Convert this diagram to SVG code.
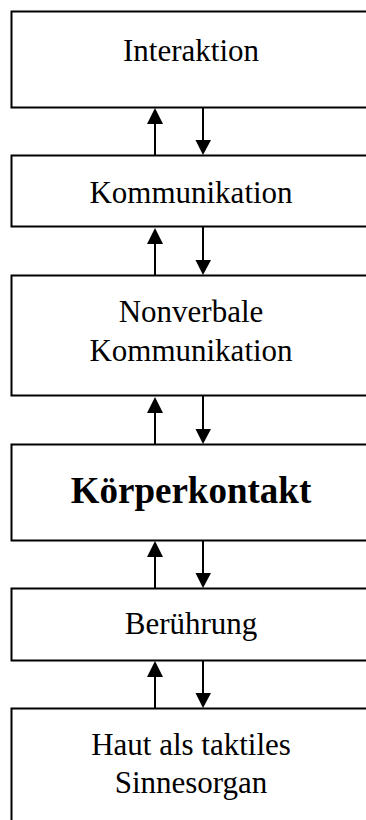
<svg xmlns="http://www.w3.org/2000/svg" width="366" height="820" viewBox="0 0 366 820">
<style>
.box{fill:#fff;stroke:#000;stroke-width:2}
.t{font-family:"Liberation Serif","Times New Roman",serif;font-size:31px;fill:#000;text-anchor:middle}
.b{font-weight:bold;font-size:37px}
.c{stroke:#000;stroke-width:2;fill:none}
.h{fill:#000;stroke:none}
</style>
<rect x="0" y="0" width="366" height="820" fill="#fff"/>
<g id="n1"><rect class="box" x="11.5" y="11.5" width="370" height="96"/><text class="t" x="191" y="61">Interaktion</text></g>
<g id="n2"><rect class="box" x="11.5" y="155.5" width="370" height="71"/><text class="t" x="191" y="203">Kommunikation</text></g>
<g id="n3"><rect class="box" x="11.5" y="275.5" width="370" height="120"/><text class="t" x="191" y="322">Nonverbale</text><text class="t" x="191" y="361">Kommunikation</text></g>
<g id="n4"><rect class="box" x="11.5" y="444.5" width="370" height="96"/><text class="t b" x="191" y="503">Körperkontakt</text></g>
<g id="n5"><rect class="box" x="11.5" y="588.5" width="370" height="72"/><text class="t" x="191" y="634">Berührung</text></g>
<g id="n6"><rect class="box" x="11.5" y="708.5" width="370" height="130"/><text class="t" x="191" y="755">Haut als taktiles</text><text class="t" x="191" y="793">Sinnesorgan</text></g>
<g id="connectors">
<path class="c" d="M155 155V122M203 108V141"/>
<path class="h" d="M155 108L147 124H163ZM203 155L195.5 140H211Z"/>
<path class="c" d="M155 275V242M203 227V261"/>
<path class="h" d="M155 228L147 244H163ZM203 275L195.5 260H211Z"/>
<path class="c" d="M155 444V411M203 396V430"/>
<path class="h" d="M155 397L147 413H163ZM203 444L195.5 429H211Z"/>
<path class="c" d="M155 588V555M203 541V574"/>
<path class="h" d="M155 541L147 557H163ZM203 588L195.5 573H211Z"/>
<path class="c" d="M155 708V675M203 661V694"/>
<path class="h" d="M155 661L147 677H163ZM203 708L195.5 693H211Z"/>
</g>
</svg>
